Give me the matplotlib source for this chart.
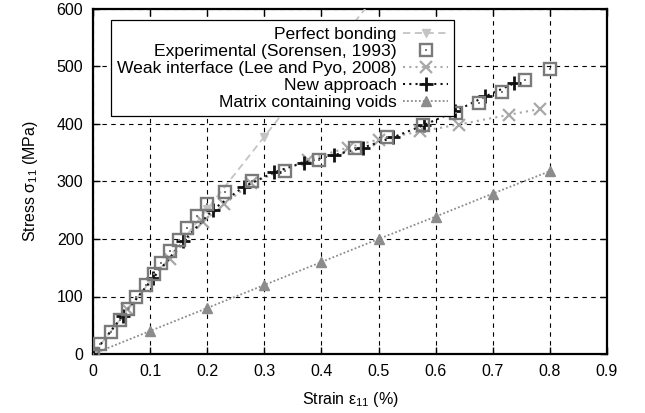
import matplotlib
matplotlib.use("Agg")
import matplotlib.pyplot as plt
from matplotlib.ticker import FuncFormatter, MultipleLocator

plt.rcParams['font.family'] = ['Liberation Sans', 'DejaVu Sans']
plt.rcParams['mathtext.fontset'] = 'custom'
plt.rcParams['mathtext.rm'] = 'Liberation Sans'
plt.rcParams['mathtext.it'] = 'Liberation Sans:italic'

# Data
perfect_strain = [0, 0.1, 0.2, 0.3, 0.4, 0.5]
perfect_stress = [0, 126, 252, 378, 504, 630]

exp_strain = [0, 0.013, 0.032, 0.047, 0.062, 0.076, 0.093, 0.107, 0.119, 0.135, 0.151,
              0.165, 0.182, 0.2, 0.231, 0.279, 0.336, 0.395, 0.458, 0.515, 0.578,
              0.636, 0.676, 0.716, 0.756, 0.8]
exp_stress = [0, 18, 39, 60, 79, 99, 120, 140, 159, 179, 199, 220, 240, 261, 281, 300,
              319, 338, 359, 378, 399, 419, 437, 456, 477, 496]

weak_strain = [0, 0.06, 0.134, 0.192, 0.229, 0.277, 0.377, 0.446, 0.5, 0.573, 0.64, 0.728, 0.782]
weak_stress = [0, 78, 165, 230, 260, 297, 338, 359, 373, 387, 399, 416, 426]

new_strain = [0, 0.052, 0.105, 0.158, 0.21, 0.264, 0.317, 0.369, 0.422, 0.473, 0.526,
              0.579, 0.634, 0.687, 0.738]
new_stress = [0, 66, 132, 196, 251, 291, 316, 333, 346, 359, 377, 398, 422, 448, 471]

void_strain = [0, 0.1, 0.2, 0.3, 0.4, 0.5, 0.6, 0.7, 0.8]
void_stress = [0, 40, 80, 120, 160, 200, 239, 279, 318]

labels = ["Perfect bonding", "Experimental (Sorensen, 1993)",
          "Weak interface (Lee and Pyo, 2008)", "New approach", "Matrix containing voids"]

fig = plt.figure(figsize=(6.45, 4.13), dpi=100)
ax = fig.add_axes([93/645, 1-354/413, (607-93)/645, (354-9)/413])

h_perf, = ax.plot(perfect_strain, perfect_stress, color='#c4c4c4', linestyle=(0, (4, 2.5)),
                  lw=1.3, marker='v', ms=5.5, mfc='#c4c4c4', mec='#c4c4c4', zorder=3)
h_void, = ax.plot(void_strain, void_stress, color='#8c8c8c', linestyle=(0, (1, 1.2)),
                  lw=1.3, marker='^', ms=6.5, mfc='#8c8c8c', mec='#8c8c8c', zorder=3)
h_weak, = ax.plot(weak_strain, weak_stress, color='#a8a8a8', linestyle=(0, (1, 2)),
                  lw=1.5, marker='x', ms=9, mew=1.6, zorder=4)
h_new, = ax.plot(new_strain, new_stress, color='#111111', linestyle=(0, (1, 2)),
                 lw=1.5, marker='+', ms=10, mew=2.0, zorder=5)
h_exp, = ax.plot(exp_strain, exp_stress, linestyle='none', marker='s', ms=9.3,
                 mfc='none', mec='#7a7a7a', mew=1.7, zorder=6)
h_dot, = ax.plot(exp_strain, exp_stress, linestyle='none', marker='s', ms=1.6,
                 mfc='#7a7a7a', mec='#7a7a7a', mew=0, zorder=6)

ax.set_xlim(0, 0.9)
ax.set_ylim(0, 600)
ax.xaxis.set_major_locator(MultipleLocator(0.1))
ax.yaxis.set_major_locator(MultipleLocator(100))
ax.xaxis.set_major_formatter(FuncFormatter(lambda v, p: f"{v:g}"))
ax.yaxis.set_major_formatter(FuncFormatter(lambda v, p: f"{v:g}"))
ax.tick_params(direction='in', top=True, right=True, length=5, width=1,
               labelsize=11.5, pad=7, colors='black')
ax.grid(True, color='black', linestyle=(0, (4, 4)), lw=0.8)
for s in ax.spines.values():
    s.set_linewidth(1.6)

ax.set_xlabel("Strain ε$_{11}$ (%)", fontsize=11.5, labelpad=8)
ax.set_ylabel("Stress σ$_{11}$ (MPa)", fontsize=11.5, labelpad=12)

leg = ax.legend([h_perf, (h_exp, h_dot), h_weak, h_new, h_void], labels,
                loc='upper left', bbox_to_anchor=(0.035, 0.967), borderaxespad=0,
                markerfirst=False, fontsize=12.6, labelspacing=0.1, handlelength=2.6,
                handletextpad=0.35, borderpad=0.35, fancybox=False, framealpha=1,
                edgecolor='black', numpoints=1)
leg.get_frame().set_linewidth(0.9)
for t in leg.get_texts():
    t.set_ha('right')
leg._legend_box.align = "right"
leg.set_zorder(10)

fig.savefig("out.png", dpi=100)
